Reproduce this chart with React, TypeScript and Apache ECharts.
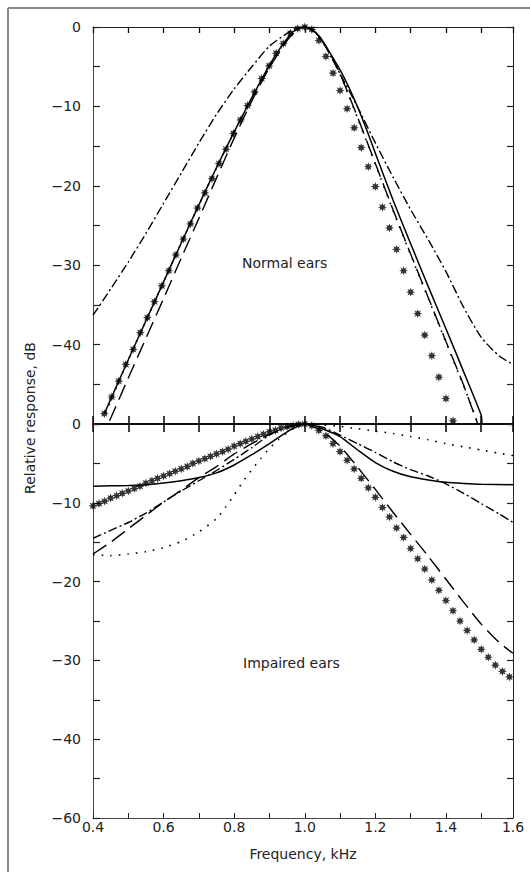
import React, { useEffect, useRef } from "react";
import * as echarts from "echarts";

// ---------- tick labels ----------
const xTickLabels = ["0.4", "0.6", "0.8", "1.0", "1.2", "1.4", "1.6"];
const normalTickLabels = ["0", "\u221210", "\u221220", "\u221230", "\u221240"];
const impairedTickLabels = ["0", "\u221210", "\u221220", "\u221230", "\u221240", "\u221260"];

// ---------- Normal ears (upper panel) : [frequency kHz, relative response dB] ----------
const normalStarsF = [
  0.432, 0.453, 0.473, 0.493, 0.514, 0.534, 0.554, 0.574, 0.595, 0.615, 0.635, 0.656, 0.676, 0.696,
  0.717, 0.737, 0.757, 0.777, 0.798, 0.818, 0.838, 0.858, 0.878, 0.899, 0.919, 0.939, 0.959, 0.98, 1.0,
  1.02, 1.04, 1.06, 1.08, 1.1, 1.12, 1.14, 1.16, 1.18, 1.2, 1.22, 1.24, 1.26, 1.28, 1.3, 1.32, 1.34,
  1.36, 1.38, 1.4, 1.42,
];
const normalStarsDb = [
  -48.7, -46.6, -44.6, -42.5, -40.6, -38.5, -36.6, -34.6, -32.6, -30.7, -28.7, -26.7, -24.8, -22.8,
  -20.9, -19.1, -17.2, -15.4, -13.4, -11.7, -9.9, -8.2, -6.5, -4.9, -3.3, -2.1, -0.8, -0.2, 0,
  -0.3, -1.7, -3.7, -5.8, -8.0, -10.3, -12.7, -15.2, -17.6, -20.1, -22.7, -25.3, -28.0, -30.7, -33.4,
  -36.1, -38.8, -41.4, -44.1, -46.8, -49.6,
];
const normalSolid: [number, number][] = [
  [0.432, -48.7], [0.45, -46.9], [0.5, -41.9], [0.55, -37.0], [0.6, -32.1], [0.65, -27.2], [0.7, -22.4],
  [0.75, -17.7], [0.8, -13.2], [0.85, -8.9], [0.9, -4.8], [0.93, -2.7], [0.96, -0.9], [0.98, -0.2],
  [1.0, 0], [1.02, -0.3], [1.04, -1.1], [1.06, -2.4], [1.08, -3.9], [1.1, -5.4], [1.125, -7.6],
  [1.15, -10.1], [1.175, -12.9], [1.2, -15.9], [1.25, -21.8], [1.3, -27.3], [1.35, -32.7], [1.4, -38.0],
  [1.45, -43.4], [1.5, -48.9], [1.502, -50],
];
const normalDotted: [number, number][] = [
  [0.436, -48.6], [0.5, -41.9], [0.6, -32.1], [0.7, -22.4], [0.8, -13.2], [0.9, -4.8], [0.95, -1.5],
  [0.98, -0.2], [1.0, 0], [1.02, -0.4], [1.05, -1.9], [1.075, -3.7], [1.1, -6.0], [1.125, -8.7],
  [1.15, -11.5], [1.175, -14.4], [1.2, -17.3], [1.25, -23.1], [1.3, -28.7], [1.35, -34.2], [1.4, -39.7],
  [1.45, -45.2], [1.48, -48.6], [1.49, -50],
];
const normalLongDash: [number, number][] = [
  [0.447, -49.6], [0.5, -44.2], [0.55, -39.2], [0.6, -34.2], [0.65, -29.1], [0.7, -24.1], [0.75, -19.0],
  [0.8, -14.0], [0.85, -9.3], [0.9, -5.1], [0.95, -1.7], [0.98, -0.3], [1.0, 0], [1.02, -0.4],
  [1.05, -1.8], [1.075, -3.6], [1.1, -5.9], [1.125, -8.6], [1.15, -11.4], [1.2, -17.2], [1.25, -23.0],
  [1.3, -28.6], [1.35, -34.1], [1.4, -39.6], [1.45, -45.1], [1.49, -50],
];
const normalDashDot: [number, number][] = [
  [0.4, -36.3], [0.45, -33.0], [0.5, -29.6], [0.55, -26.0], [0.6, -22.2], [0.65, -18.4], [0.7, -14.6],
  [0.75, -11.0], [0.8, -7.8], [0.85, -5.0], [0.9, -2.4], [0.95, -0.8], [0.975, -0.2], [1.0, 0],
  [1.025, -0.5], [1.05, -1.8], [1.075, -3.8], [1.1, -5.9], [1.15, -10.1], [1.2, -14.6], [1.25, -18.9],
  [1.3, -23.0], [1.35, -26.8], [1.4, -30.8], [1.45, -35.3], [1.5, -39.1], [1.55, -41.4], [1.59, -42.5],
];

// ---------- Impaired ears (lower panel) ----------
const impairedStarsF = [
  0.4, 0.417, 0.433, 0.45, 0.467, 0.483, 0.5, 0.517, 0.533, 0.55, 0.567, 0.583, 0.6, 0.617, 0.633,
  0.65, 0.667, 0.683, 0.7, 0.717, 0.733, 0.75, 0.767, 0.783, 0.8, 0.817, 0.833, 0.85, 0.867, 0.883,
  0.9, 0.917, 0.933, 0.95, 0.967, 0.983, 1.0,
  1.02, 1.04, 1.06, 1.08, 1.1, 1.12, 1.14, 1.16, 1.18, 1.2, 1.22, 1.24, 1.26, 1.28, 1.3, 1.32, 1.34,
  1.36, 1.38, 1.4, 1.42, 1.44, 1.46, 1.48, 1.5, 1.52, 1.54, 1.56, 1.58,
];
const impairedStarsDb = [
  -10.4, -10.1, -9.8, -9.4, -9.1, -8.8, -8.5, -8.2, -7.9, -7.5, -7.2, -6.9, -6.6, -6.3, -6.0,
  -5.7, -5.4, -5.0, -4.7, -4.4, -4.1, -3.8, -3.5, -3.2, -2.8, -2.5, -2.2, -1.9, -1.6, -1.3,
  -1.0, -0.8, -0.5, -0.35, -0.2, -0.05, 0,
  -0.2, -0.8, -1.5, -2.5, -3.5, -4.6, -5.7, -6.9, -8.1, -9.3, -10.6, -11.8, -13.2, -14.4, -15.8,
  -17.1, -18.4, -19.8, -21.1, -22.4, -23.7, -25.0, -26.2, -27.4, -28.6, -29.6, -30.6, -31.4, -32.1,
];
const impairedSolid: [number, number][] = [
  [0.4, -7.9], [0.45, -7.85], [0.5, -7.8], [0.55, -7.7], [0.6, -7.5], [0.65, -7.2], [0.7, -6.8],
  [0.75, -6.2], [0.8, -5.2], [0.85, -3.9], [0.9, -2.5], [0.95, -1.0], [0.975, -0.4], [1.0, 0],
  [1.025, -0.15], [1.05, -0.6], [1.1, -1.6], [1.15, -3.3], [1.2, -4.9], [1.25, -6.0], [1.3, -6.7],
  [1.35, -7.1], [1.4, -7.4], [1.45, -7.55], [1.5, -7.65], [1.59, -7.7],
];
const impairedDashDot: [number, number][] = [
  [0.4, -14.5], [0.45, -13.5], [0.5, -12.5], [0.55, -11.3], [0.6, -9.9], [0.65, -8.5], [0.7, -7.2],
  [0.75, -5.9], [0.8, -4.5], [0.85, -3.0], [0.9, -1.4], [0.95, -0.4], [1.0, 0], [1.05, -0.4],
  [1.1, -1.4], [1.15, -2.5], [1.2, -3.6], [1.25, -4.8], [1.3, -5.8], [1.35, -6.6], [1.4, -7.6],
  [1.45, -8.8], [1.5, -10.1], [1.55, -11.4], [1.59, -12.5],
];
const impairedLongDash: [number, number][] = [
  [0.4, -16.5], [0.45, -15.0], [0.5, -13.3], [0.55, -11.6], [0.6, -9.9], [0.65, -8.4], [0.7, -6.8],
  [0.75, -5.4], [0.8, -3.8], [0.85, -2.5], [0.9, -1.3], [0.95, -0.4], [1.0, 0], [1.05, -0.9],
  [1.1, -2.8], [1.15, -5.5], [1.2, -8.3], [1.25, -11.2], [1.3, -14.0], [1.35, -16.8], [1.4, -19.7],
  [1.45, -22.6], [1.5, -25.4], [1.55, -27.7], [1.59, -29.1],
];
const impairedDotted: [number, number][] = [
  [0.4, -16.6], [0.45, -16.7], [0.5, -16.5], [0.55, -16.2], [0.6, -15.7], [0.65, -14.9], [0.7, -13.7],
  [0.75, -12.0], [0.775, -10.6], [0.8, -9.0], [0.825, -7.3], [0.85, -5.8], [0.875, -4.4], [0.9, -3.1],
  [0.925, -2.0], [0.95, -1.1], [0.975, -0.35], [1.0, 0], [1.05, -0.1], [1.1, -0.3], [1.15, -0.6],
  [1.2, -0.9], [1.25, -1.2], [1.3, -1.6], [1.35, -2.0], [1.4, -2.5], [1.45, -2.9], [1.5, -3.3],
  [1.55, -3.7], [1.59, -4.0],
];

const FONT = "DejaVu Sans";

function starPath(): string {
  let d = "";
  for (let i = 0; i < 16; i++) {
    const r = i % 2 === 0 ? 1 : 0.5;
    const a = (Math.PI * i) / 8 - Math.PI / 2;
    d += (i === 0 ? "M" : "L") + (r * Math.cos(a)).toFixed(3) + " " + (r * Math.sin(a)).toFixed(3) + " ";
  }
  return "path://" + d + "Z";
}

function zip(f: number[], v: number[]): [number, number][] {
  return f.map((x, i) => [x, v[i]]);
}

export default function App() {
  const ref = useRef<HTMLDivElement>(null);
  useEffect(() => {
    if (!ref.current) return;
    const chart = echarts.init(ref.current, null, { renderer: "svg" });
    const STAR = starPath();

    const xCommon: any = {
      type: "value",
      min: 0.4,
      max: 1.59,
      interval: 0.1,
      splitLine: { show: false },
    };
    const xLabelFmt = (v: number) => {
      const k = Math.round((v - 0.4) * 10);
      return k % 2 === 0 ? xTickLabels[k / 2] ?? "" : "";
    };
    const yFmt = (labels: string[]) => (v: number) => {
      if (Math.round(v) % 10 !== 0) return "";
      const k = Math.round(-v / 10);
      return labels[k] ?? "";
    };
    const yCommon: any = { type: "value", min: -50, max: 0, interval: 5, splitLine: { show: false } };

    const line = (data: [number, number][], type: any, width: number, grid: number, smooth = 0.2) => ({
      type: "line",
      xAxisIndex: grid === 0 ? 0 : 2,
      yAxisIndex: grid === 0 ? 0 : 2,
      data,
      showSymbol: false,
      symbol: "none",
      smooth,
      lineStyle: { color: "#000", width, type, cap: "butt" },
      silent: true,
    });
    const stars = (data: [number, number][], grid: number) => ({
      type: "scatter",
      xAxisIndex: grid === 0 ? 0 : 2,
      yAxisIndex: grid === 0 ? 0 : 2,
      data,
      symbol: STAR,
      symbolSize: 9,
      itemStyle: { color: "#000" },
      z: 5,
      silent: true,
    });

    const DASHDOT = [9, 3, 2, 3];
    const LONGDASH = [16, 7];
    const DOTTED = [1.6, 7];

    chart.setOption({
      animation: false,
      grid: [
        { left: 93, top: 27, width: 420, height: 397, containLabel: false },
        { left: 93, top: 424, width: 420, height: 394, containLabel: false },
      ],
      xAxis: [
        {
          ...xCommon, gridIndex: 0, position: "top",
          axisLine: { onZero: false, lineStyle: { color: "#222", width: 1 } },
          axisTick: { inside: true, length: 6, lineStyle: { color: "#111", width: 1.3 } },
          axisLabel: { show: false },
        },
        {
          ...xCommon, gridIndex: 0, position: "bottom",
          axisLine: { onZero: false, lineStyle: { color: "#000", width: 1.6 } },
          axisTick: { inside: true, length: 8, lineStyle: { color: "#000", width: 1.5 } },
          axisLabel: { show: false },
        },
        {
          ...xCommon, gridIndex: 1, position: "top",
          axisLine: { onZero: false, lineStyle: { color: "#000", width: 1.6 } },
          axisTick: { inside: true, length: 8, lineStyle: { color: "#000", width: 1.5 } },
          axisLabel: { show: false },
        },
        {
          ...xCommon, gridIndex: 1, position: "bottom",
          axisLine: { onZero: false, lineStyle: { color: "#444", width: 1 } },
          axisTick: { inside: true, length: 5, lineStyle: { color: "#222", width: 1 } },
          axisLabel: { formatter: xLabelFmt, margin: 2, fontSize: 14, color: "#222", fontFamily: FONT },
        },
      ],
      yAxis: [
        {
          ...yCommon, gridIndex: 0, position: "left",
          axisLine: { show: true, onZero: false, lineStyle: { color: "#444", width: 1 } },
          axisTick: { show: true, inside: true, length: 7, lineStyle: { color: "#222", width: 1.2 } },
          axisLabel: { formatter: yFmt(normalTickLabels), margin: 12, fontSize: 14, color: "#222", fontFamily: FONT },
        },
        {
          ...yCommon, gridIndex: 0, position: "right",
          axisLine: { show: true, onZero: false, lineStyle: { color: "#222", width: 1 } },
          axisTick: { show: true, inside: true, length: 6, lineStyle: { color: "#222", width: 1.2 } },
          axisLabel: { show: false },
        },
        {
          ...yCommon, gridIndex: 1, position: "left",
          axisLine: { show: true, onZero: false, lineStyle: { color: "#444", width: 1 } },
          axisTick: { show: true, inside: true, length: 7, lineStyle: { color: "#222", width: 1.2 } },
          axisLabel: { formatter: yFmt(impairedTickLabels), margin: 12, fontSize: 14, color: "#222", fontFamily: FONT },
        },
        {
          ...yCommon, gridIndex: 1, position: "right",
          axisLine: { show: true, onZero: false, lineStyle: { color: "#222", width: 1 } },
          axisTick: { show: true, inside: true, length: 6, lineStyle: { color: "#222", width: 1.2 } },
          axisLabel: { show: false },
        },
      ],
      series: [
        line(normalDashDot, DASHDOT, 1.4, 0),
        line(normalLongDash, LONGDASH, 1.4, 0),
        line(normalDotted, DOTTED, 1.6, 0),
        line(normalSolid, "solid", 1.5, 0, 0.15),
        stars(zip(normalStarsF, normalStarsDb), 0),
        line(impairedDotted, DOTTED, 1.6, 1),
        line(impairedDashDot, DASHDOT, 1.4, 1),
        line(impairedLongDash, LONGDASH, 1.4, 1),
        line(impairedSolid, "solid", 1.5, 1),
        stars(zip(impairedStarsF, impairedStarsDb), 1),
      ],
      graphic: [
        {
          type: "line",
          shape: { x1: 8, y1: 8, x2: 530, y2: 8 },
          style: { stroke: "#8a8a8a", lineWidth: 2 },
          silent: true,
        },
        {
          type: "line",
          shape: { x1: 8, y1: 8, x2: 8, y2: 872 },
          style: { stroke: "#8a8a8a", lineWidth: 2 },
          silent: true,
        },
        {
          type: "text", x: 242, y: 263,
          style: { text: "Normal ears", font: `14px "${FONT}"`, fill: "#222", verticalAlign: "middle", align: "left" },
        },
        {
          type: "text", x: 243, y: 663,
          style: { text: "Impaired ears", font: `14px "${FONT}"`, fill: "#222", verticalAlign: "middle", align: "left" },
        },
        {
          type: "text", x: 30, y: 418, rotation: Math.PI / 2,
          style: { text: "Relative response, dB", font: `14px "${FONT}"`, fill: "#222", verticalAlign: "middle", align: "center" },
        },
        {
          type: "text", x: 303, y: 854,
          style: { text: "Frequency, kHz", font: `14px "${FONT}"`, fill: "#222", verticalAlign: "middle", align: "center" },
        },
      ],
    });
    return () => chart.dispose();
  }, []);
  return (
    <div
      ref={ref}
      style={{ position: "fixed", left: 0, top: 0, width: 530, height: 872, background: "#fff" }}
    />
  );
}
